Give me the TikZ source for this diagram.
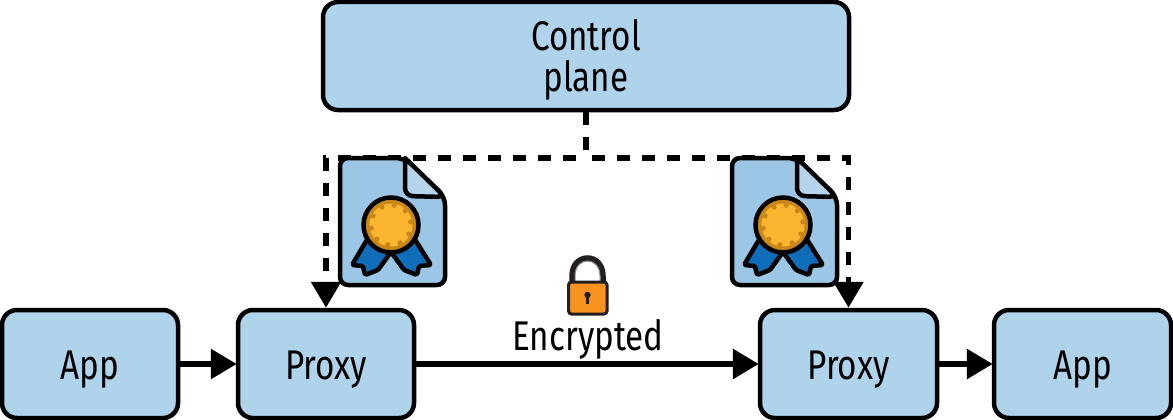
\documentclass[tikz,border=0pt]{standalone}
\usepackage{fontspec}
\setmainfont[FakeStretch=0.80]{Fira Sans}
\usetikzlibrary{arrows.meta}
\definecolor{boxblue}{HTML}{B0D3EC}
\definecolor{certblue}{HTML}{9CC6E6}
\definecolor{foldblue}{HTML}{B5D4EC}
\definecolor{ribbon}{HTML}{0F6DB9}
\definecolor{medal}{HTML}{FBB531}
\definecolor{medalring}{HTML}{C98718}
\definecolor{lockorange}{HTML}{F7931E}
\definecolor{lockdark}{HTML}{231F20}
\newcommand{\lbl}[1]{\raisebox{-15pt}[0pt][0pt]{#1}}
\tikzset{
  box/.style={draw=black,fill=boxblue,line width=4.5pt,rounded corners=15pt,align=center,
    inner sep=0pt,font=\fontsize{41.5}{41}\selectfont},
  flow/.style={draw=black,line width=6pt,-{Triangle[length=26pt,width=29pt]},shorten >=-1pt},
  signal/.style={draw=black,line width=5.5pt,dash pattern=on 13pt off 12pt,
    -{Triangle[length=26pt,width=29pt]}},
  certline/.style={draw=black,line width=4.5pt,line join=round},
}
\newcommand{\certificate}[1]{%
  \begin{scope}[shift={(#1,0)}]
    \path[certline,fill=certblue,rounded corners=8pt] (340,158) -- (404,158) -- (445,197) -- (445,285) -- (340,285) -- cycle;
    \path[certline,fill=foldblue] (405,158) -- (405,182) [rounded corners=8pt] -- (405,196) -- (445,197) [sharp corners] -- cycle;
    \path[certline,fill=ribbon,rounded corners=1.5pt] (368,238) -- (352,265) -- (363,266) -- (365,275) -- (378,270) -- (391,252) -- (404,270) -- (417,275) -- (419,266) -- (431,265) -- (414,238) -- cycle;
    \path[draw=black,line width=4.5pt,fill=medalring] (391,225) circle[radius=27.5pt];
    \path[fill=medal] (391,225) circle[radius=21.5pt];
    \foreach \a in {0,36,...,324} {\path[fill=medalring] (391,225) ++(\a+9:20pt) circle[radius=2.6pt];}
  \end{scope}}
\begin{document}
\begin{tikzpicture}[x=1pt,y=-1pt]
\useasboundingbox (0,0) rectangle (1173,420);
\node[box,minimum width=526pt,minimum height=108pt] (ctrl) at (586,56) {\lbl{Control}\\\lbl{plane}};
\node[box,minimum width=176pt,minimum height=108pt] (app1) at (90,364) {\lbl{App}};
\node[box,minimum width=176pt,minimum height=108pt] (proxy1) at (326,364) {\lbl{Proxy}};
\node[box,minimum width=177pt,minimum height=108pt] (proxy2) at (848.5,364) {\lbl{Proxy}};
\node[box,minimum width=177pt,minimum height=108pt] (app2) at (1082.5,364) {\lbl{App}};
\coordinate (junction) at (ctrl.south |- 0,158);
\draw[signal,-] (ctrl.south) -- (junction);
\draw[signal,dash phase=15pt] (junction) -| (proxy1.north);
\draw[signal,dash phase=19pt] (junction) -| (proxy2.north);
\certificate{0}
\certificate{392}
\draw[flow] (app1) -- (proxy1);
\draw[flow] (proxy1) -- (proxy2);
\draw[flow] (proxy2) -- (app2);
\node[font=\fontsize{41.5}{41}\selectfont,inner sep=0pt] (enc) at (588,339) {Encrypted};
% padlock
\path[draw=lockdark,line width=5.5pt,fill=white] (572,284) -- (572,276) .. controls (572,252) and (603,252) .. (603,276) -- (603,284);
\path[draw=lockdark!55,line width=1pt] (575,284) -- (575,276) .. controls (575,256) and (600,256) .. (600,276) -- (600,284);
\path[draw=lockdark,line width=3pt,fill=lockorange,rounded corners=3pt] (568.5,282) rectangle (607,314);
\path[fill=lockdark] (587.5,295) circle[radius=3.2pt];
\path[fill=lockdark] (585.7,296) rectangle (589.3,304);
\end{tikzpicture}
\end{document}
